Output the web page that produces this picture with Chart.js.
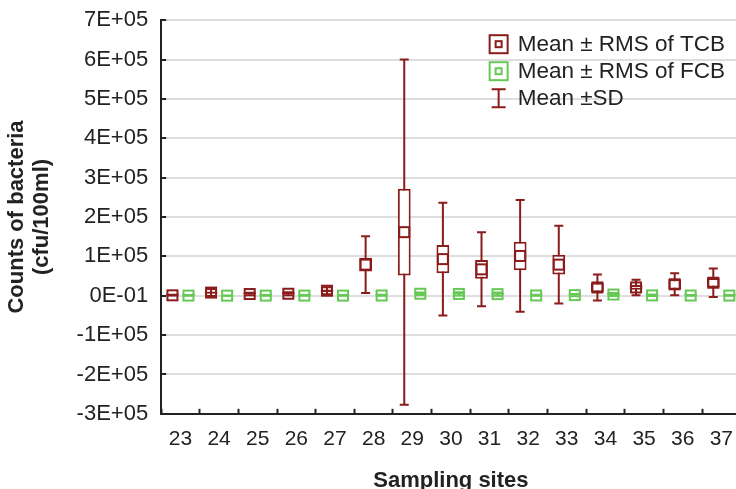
<!DOCTYPE html>
<html>
<head>
<meta charset="utf-8">
<script src="https://cdn.jsdelivr.net/npm/chart.js@4.4.1/dist/chart.umd.min.js"></script>
<style>
  html, body { margin: 0; padding: 0; background: #fff; overflow: hidden; }
  #wrap { width: 751px; height: 489px; }
</style>
</head>
<body>
<div id="wrap"><canvas id="chart"></canvas></div>
<script>
// sampling sites on the x axis
const sites = ['23', '24', '25', '26', '27', '28', '29', '30', '31', '32', '33', '34', '35', '36', '37'];

// total coliform bacteria: mean, RMS (box half-height), SD (whisker half-length)
const tcbMean = [1000, 8000, 4300, 5000, 12700, 79000, 161500, 93000, 67000, 101000, 79000, 21000, 21000, 29000, 33000];
const tcbRms  = [500, 3000, 1500, 1500, 3000, 17500, 110000, 36000, 24000, 36000, 25000, 12000, 6000, 13000, 12000];
const tcbSd   = [500, 9000, 3000, 4000, 9000, 72000, 438500, 143000, 94000, 142000, 99000, 33000, 19500, 28000, 36000];

// faecal coliform bacteria
const fcbMean = [300, 200, 300, 400, 300, 600, 5000, 4500, 4000, 600, 1500, 3000, 800, 500, 400];
const fcbRms  = [200, 200, 200, 200, 200, 300, 1500, 1500, 1500, 300, 800, 1000, 500, 300, 200];
const fcbSd   = [400, 400, 400, 400, 400, 600, 3000, 4000, 4000, 600, 3000, 4000, 1500, 600, 400];

const yTickLabels = ['-3E+05', '-2E+05', '-1E+05', '0E-01', '1E+05', '2E+05', '3E+05', '4E+05', '5E+05', '6E+05', '7E+05'];
const legendLabels = ['Mean ± RMS of TCB', 'Mean ± RMS of FCB', 'Mean ±SD'];

const RED = '#8b1c1c';
const GREEN = '#66c955';
const FONT = '"Liberation Sans", Arial, sans-serif';
const CAP = 4.5;     // half width of whisker caps
const MARK = 5;      // half size of the mean marker

function boxes(mean, rms) {
  return mean.map((m, i) => [m - rms[i], m + rms[i]]);
}

// whiskers behind the boxes, mean markers on top, legend last
const boxPlot = {
  id: 'boxPlot',
  beforeDatasetsDraw(chart) {
    const { ctx } = chart;
    const y = chart.scales.y;
    chart.data.datasets.forEach((ds, i) => {
      const meta = chart.getDatasetMeta(i);
      ctx.save();
      ctx.strokeStyle = ds.borderColor;
      ctx.lineWidth = 2;
      meta.data.forEach((bar, j) => {
        const top = y.getPixelForValue(ds.means[j] + ds.sds[j]);
        const bottom = y.getPixelForValue(ds.means[j] - ds.sds[j]);
        ctx.beginPath();
        ctx.moveTo(bar.x, top);
        ctx.lineTo(bar.x, bottom);
        ctx.moveTo(bar.x - CAP, top);
        ctx.lineTo(bar.x + CAP, top);
        ctx.moveTo(bar.x - CAP, bottom);
        ctx.lineTo(bar.x + CAP, bottom);
        ctx.stroke();
      });
      ctx.restore();
    });
  },
  afterDatasetsDraw(chart) {
    const { ctx } = chart;
    const y = chart.scales.y;
    chart.data.datasets.forEach((ds, i) => {
      const meta = chart.getDatasetMeta(i);
      ctx.save();
      ctx.strokeStyle = ds.borderColor;
      ctx.lineWidth = 2;
      meta.data.forEach((bar, j) => {
        const py = y.getPixelForValue(ds.means[j]);
        ctx.strokeRect(bar.x - MARK, py - MARK, MARK * 2, MARK * 2);
      });
      ctx.restore();
    });
  },
  afterDraw(chart) {
    const { ctx, chartArea } = chart;
    const ix = chartArea.right - 242;
    const tx = chartArea.right - 223;
    const rows = [chartArea.top + 24, chartArea.top + 51, chartArea.top + 78];
    const colors = [RED, GREEN];
    ctx.save();
    ctx.lineWidth = 2;
    colors.forEach((c, k) => {
      ctx.strokeStyle = c;
      ctx.strokeRect(ix - 9, rows[k] - 9, 18, 18);
      ctx.strokeRect(ix - 3, rows[k] - 3, 6, 6);
    });
    ctx.strokeStyle = RED;
    ctx.beginPath();
    ctx.moveTo(ix, rows[2] - 9);
    ctx.lineTo(ix, rows[2] + 9);
    ctx.moveTo(ix - 7, rows[2] - 9);
    ctx.lineTo(ix + 7, rows[2] - 9);
    ctx.moveTo(ix - 7, rows[2] + 9);
    ctx.lineTo(ix + 7, rows[2] + 9);
    ctx.stroke();
    ctx.fillStyle = '#222';
    ctx.font = '22.5px ' + FONT;
    ctx.textBaseline = 'middle';
    legendLabels.forEach((t, k) => ctx.fillText(t, tx, rows[k] + 1));
    ctx.restore();
  }
};

const barStyle = {
  backgroundColor: '#fff',
  borderWidth: 2,
  borderSkipped: false,
  minBarLength: 2,
  categoryPercentage: 0.83,
  barPercentage: 0.8
};

new Chart(document.getElementById('chart'), {
  type: 'bar',
  data: {
    labels: sites,
    datasets: [
      Object.assign({ label: legendLabels[0], data: boxes(tcbMean, tcbRms), borderColor: RED, means: tcbMean, sds: tcbSd }, barStyle),
      Object.assign({ label: legendLabels[1], data: boxes(fcbMean, fcbRms), borderColor: GREEN, means: fcbMean, sds: fcbSd }, barStyle)
    ]
  },
  options: {
    responsive: true,
    maintainAspectRatio: false,
    animation: false,
    devicePixelRatio: 1,
    layout: { padding: { top: 0, bottom: -3, left: 2, right: 0 } },
    plugins: {
      legend: { display: false },
      tooltip: { enabled: false }
    },
    scales: {
      x: {
        grid: { drawOnChartArea: false, tickLength: -5, tickColor: '#222', tickWidth: 2 },
        border: { color: '#222', width: 2 },
        ticks: { color: '#222', font: { family: FONT, size: 21 }, padding: 18 },
        title: {
          display: true,
          text: 'Sampling sites',
          color: '#222',
          font: { family: FONT, size: 22, weight: 'bold', lineHeight: 1.0 },
          padding: { top: 0, bottom: 0 }
        }
      },
      y: {
        min: -300000,
        max: 700000,
        grid: { color: '#dedede', lineWidth: 2, tickLength: -5, tickColor: '#222', tickWidth: 2 },
        border: { color: '#222', width: 2 },
        ticks: {
          stepSize: 100000,
          color: '#222',
          font: { family: FONT, size: 22, lineHeight: 0.2 },
          padding: 18,
          callback: (value, index) => yTickLabels[index]
        },
        title: {
          display: true,
          text: ['Counts of bacteria', '(cfu/100ml)'],
          color: '#222',
          font: { family: FONT, size: 22, weight: 'bold', lineHeight: 1.15 },
          padding: { top: 2, bottom: 4 }
        }
      }
    }
  },
  plugins: [boxPlot]
});
</script>
</body>
</html>
